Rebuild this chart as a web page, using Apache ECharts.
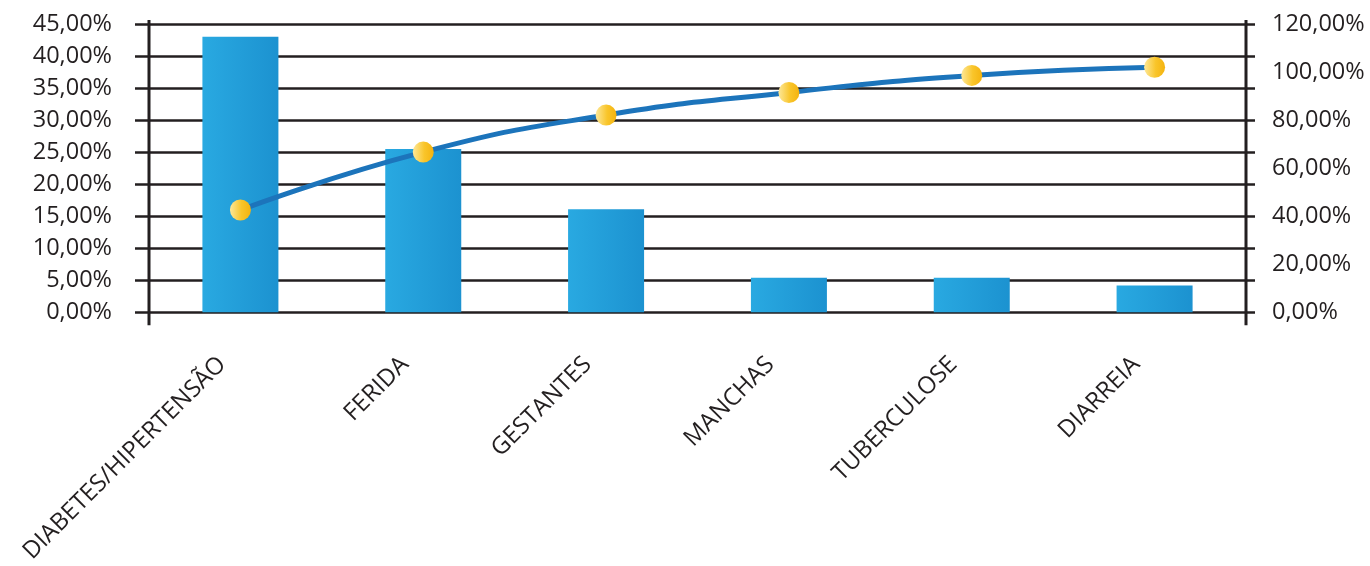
<!DOCTYPE html>
<html>
<head>
<meta charset="utf-8">
<script src="https://cdn.jsdelivr.net/npm/echarts@6/dist/echarts.min.js"></script>
<style>
html,body{margin:0;padding:0;background:#fff;}
#chart{width:1370px;height:566px;}
</style>
</head>
<body>
<div id="chart"></div>
<script>
const categories = ['DIABETES/HIPERTENSÃO', 'FERIDA', 'GESTANTES', 'MANCHAS', 'TUBERCULOSE', 'DIARREIA'];
const barValues = [43.0, 25.5, 16.1, 5.4, 5.4, 4.2];
const cumulativeValues = [42.6, 66.7, 82.1, 91.5, 98.6, 102.0];
const leftAxis = { min: 0, max: 45, interval: 5 };
const rightAxis = { min: 0, max: 120, interval: 20 };

const ink = '#231f20';
const fontFamily = '"Open Sans", "Noto Sans", sans-serif';
const fmt = v => v.toFixed(2).replace('.', ',') + '%';

const chart = echarts.init(document.getElementById('chart'), null, { renderer: 'canvas' });

const option = {
  animation: false,
  backgroundColor: '#ffffff',
  grid: { left: 149, right: 124, top: 24, bottom: 249, containLabel: false },
  xAxis: {
    type: 'category',
    data: categories,
    axisLine: { show: false },
    axisTick: { show: false },
    axisLabel: {
      rotate: 45,
      interval: 0,
      margin: 30,
      padding: [0, 26, 0, 0],
      color: ink,
      fontFamily: fontFamily,
      fontSize: 24
    }
  },
  yAxis: [
    {
      type: 'value', position: 'left',
      min: leftAxis.min, max: leftAxis.max, interval: leftAxis.interval,
      axisLine: { show: false },
      axisTick: { show: true, length: 14, lineStyle: { color: ink, width: 2.5 } },
      splitLine: { show: true, lineStyle: { color: ink, width: 2.5 } },
      axisLabel: { formatter: fmt, margin: 37, color: ink, fontFamily: fontFamily, fontSize: 23.5 }
    },
    {
      type: 'value', position: 'right',
      min: rightAxis.min, max: rightAxis.max, interval: rightAxis.interval,
      axisLine: { show: false },
      axisTick: { show: false },
      splitLine: { show: false },
      axisLabel: { formatter: fmt, margin: 26, color: ink, fontFamily: fontFamily, fontSize: 23.5 }
    },
    {
      type: 'value', position: 'right',
      min: leftAxis.min, max: leftAxis.max, interval: leftAxis.interval,
      axisLine: { show: false },
      axisTick: { show: true, length: 9, lineStyle: { color: ink, width: 2.5 } },
      splitLine: { show: false },
      axisLabel: { show: false }
    }
  ],
  series: [
    {
      type: 'bar',
      data: barValues,
      yAxisIndex: 0,
      barWidth: 76,
      itemStyle: {
        color: new echarts.graphic.LinearGradient(0, 0, 1, 0, [
          { offset: 0, color: '#29a9e1' },
          { offset: 1, color: '#1c92d0' }
        ])
      },
      z: 3
    },
    {
      type: 'line',
      data: cumulativeValues,
      yAxisIndex: 1,
      smooth: true,
      symbol: 'circle',
      symbolSize: 21,
      lineStyle: { color: '#1c74bb', width: 5 },
      itemStyle: {
        color: new echarts.graphic.LinearGradient(0, 0, 1, 0, [
          { offset: 0, color: '#fde89a' },
          { offset: 0.55, color: '#f9c52a' },
          { offset: 1, color: '#f4b30f' }
        ]),
        borderWidth: 0
      },
      z: 5
    }
  ]
};

chart.setOption(option);

// Axis lines that extend a little beyond the plot area, derived from the axis scales
function drawAxisLines() {
  const rect = chart.getModel().getComponent('grid').coordinateSystem.getRect();
  const yTop = chart.convertToPixel({ yAxisIndex: 0 }, leftAxis.max) - 4;
  const yBot = chart.convertToPixel({ yAxisIndex: 0 }, leftAxis.min) + 13;
  chart.setOption({
    graphic: [
      { type: 'line', z: 10, shape: { x1: rect.x, y1: yTop, x2: rect.x, y2: yBot }, style: { stroke: ink, lineWidth: 3 } },
      { type: 'line', z: 10, shape: { x1: rect.x + rect.width, y1: yTop, x2: rect.x + rect.width, y2: yBot }, style: { stroke: ink, lineWidth: 3 } }
    ]
  });
}
drawAxisLines();
</script>
</body>
</html>
